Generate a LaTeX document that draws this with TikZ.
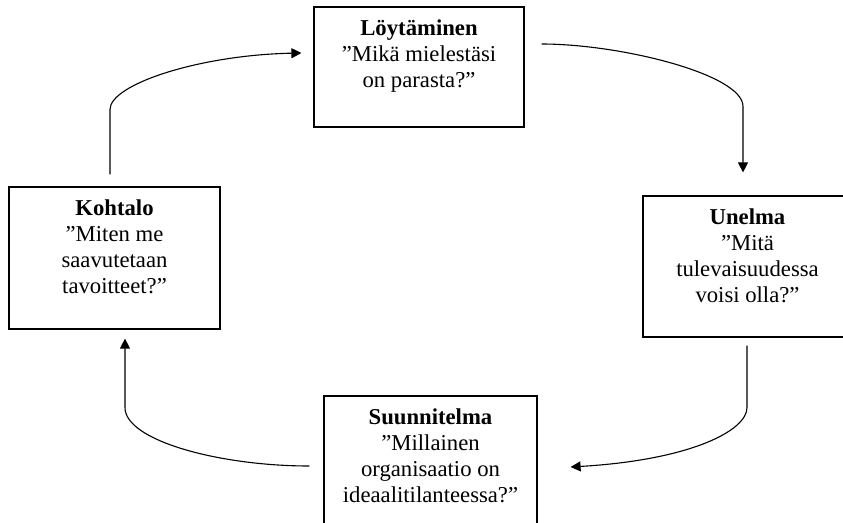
\documentclass[tikz,border=0pt]{standalone}
\usepackage{fontspec}
\setmainfont{Liberation Serif}
\usetikzlibrary{arrows.meta,calc}
\begin{document}
\begin{tikzpicture}[x=1pt,y=1pt,
  box/.style={draw=black, line width=1.2pt, rectangle, inner sep=0pt},
  txt/.style={font=\fontsize{22.7}{26}\selectfont, align=center, inner sep=0pt, anchor=base},
  conn/.style={line width=1.1pt, draw=black, -{Triangle[length=10pt,width=10pt]}}]
\clip (0,0) rectangle (843,-522);
\node[box, minimum width=210pt, minimum height=120pt] (l) at (419,-67) {};
\node[box, minimum width=209pt, minimum height=141pt] (u) at (747.5,-266.5) {};
\node[box, minimum width=213pt, minimum height=141pt] (s) at (430.5,-466.5) {};
\node[box, minimum width=211pt, minimum height=142pt] (k) at (114.5,-258) {};
\node[txt] (lt) at ($(l.north)+(0,-81.5)$) {\textbf{Löytäminen}\\”Mikä mielestäsi\\on parasta?”};
\node[txt] (ut) at ($(u.north)+(0,-107.5)$) {\textbf{Unelma}\\”Mitä\\tulevaisuudessa\\voisi olla?”};
\node[txt] (st) at ($(s.north)+(0,-107.5)$) {\textbf{Suunnitelma}\\”Millainen\\organisaatio on\\ideaalitilanteessa?”};
\node[txt] (kt) at ($(k.north)+(0,-107.5)$) {\textbf{Kohtalo}\\”Miten me\\saavutetaan\\tavoitteet?”};
\draw[conn] ($(k.north)+(-4.5,12)$) -- ++(0,65) .. controls ++(0,25) and ($(l.west)+(-114,12)$) .. ($(l.west)+(-12,14)$);
\draw[conn] ($(l.east)+(17,23)$) .. controls ++(79,0) and ($(u.north)+(-4.5,121)$) .. ($(u.north)+(-4.5,89)$) -- ($(u.north)+(-4.5,23)$);
\draw[conn] ($(u.south)+(-0.5,-8)$) -- ++(0,-62) .. controls ++(0,-23) and ($(s.east)+(153,6.5)$) .. ($(s.east)+(33,-0.5)$);
\draw[conn] ($(s.west)+(-14,0.5)$) .. controls ++(-90,0) and ($(k.south)+(10.5,-111)$) .. ($(k.south)+(10.5,-78)$) -- ($(k.south)+(10.5,-9)$);
\end{tikzpicture}
\end{document}
